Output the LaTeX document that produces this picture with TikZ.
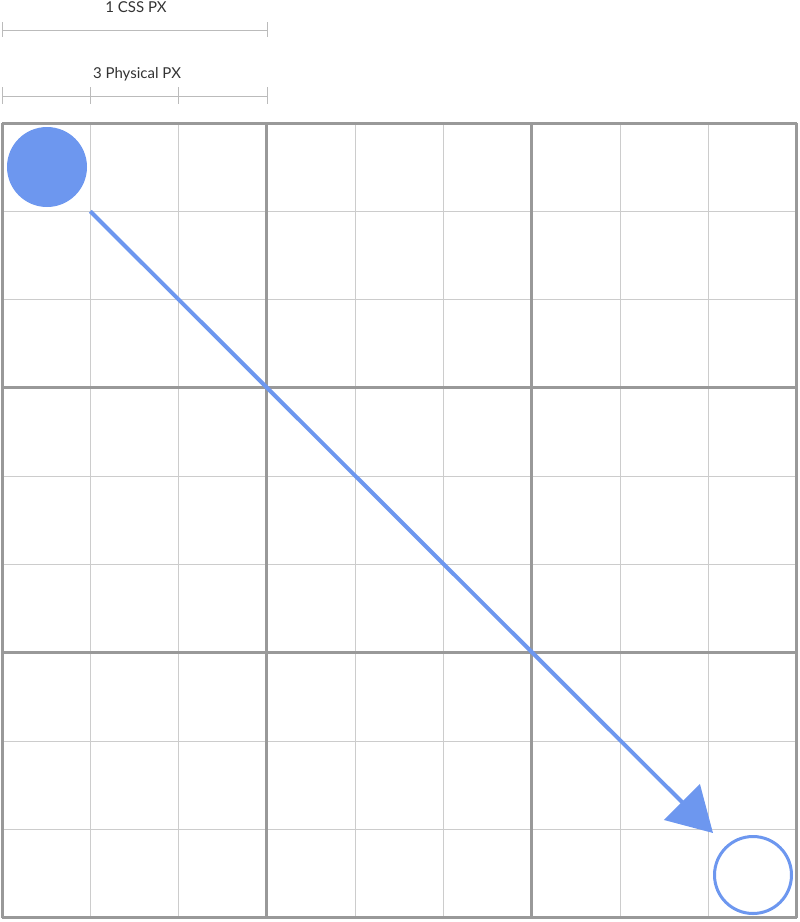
\documentclass[tikz,border=0pt]{standalone}
\usepackage{fontspec}
\setmainfont{Lato}
\usepackage{tikz}
\usetikzlibrary{positioning, arrows.meta}
\usepackage{xcolor}
\definecolor{pxblue}{HTML}{6D97EF}
\definecolor{gridthin}{HTML}{CCCCCC}
\definecolor{gridthick}{HTML}{999999}
\definecolor{rulegray}{HTML}{BBBBBB}

\begin{document}
\begin{tikzpicture}[
    x=1pt, y=-1pt,
    thinline/.style={draw=gridthin, line width=1pt},
    thickline/.style={draw=gridthick, line width=3pt},
    ruler/.style={draw=rulegray, line width=1pt},
    caption/.style={font=\fontsize{15}{17}\selectfont, text=black!80, anchor=base, inner sep=0pt},
    dot/.style={circle, fill=pxblue, minimum size=80pt, inner sep=0pt},
    target/.style={circle, draw=pxblue, line width=3pt, fill=white, minimum size=77pt, inner sep=0pt},
    arrow/.style={-{Triangle[length=44pt, width=50pt]}, draw=pxblue, line width=4pt}
]
    \useasboundingbox (0,0) rectangle (800,922);

    % Grid
    \foreach \i in {1,2,4,5,7,8} {
        \draw[thinline] (2+88.33*\i,123) -- (2+88.33*\i,918);
        \draw[thinline] (2,123+88.33*\i) -- (797,123+88.33*\i);
    }
    \foreach \i in {0,3,6,9} {
        \draw[thickline] (2+88.33*\i,123) -- (2+88.33*\i,918);
        \draw[thickline] (2,123+88.33*\i) -- (797,123+88.33*\i);
    }

    % Rulers
    \node[caption] (css) at (136,12) {1 CSS PX};
    \draw[ruler] (2,30) -- (267,30);
    \foreach \x in {2,267} \draw[ruler] (\x,22) -- (\x,37);
    \node[caption] (phys) at (137,78) {3 Physical PX};
    \draw[ruler] (2,96) -- (267,96);
    \foreach \x in {2,90.3,178.7,267} \draw[ruler] (\x,87) -- (\x,104);

    % Nodes
    \node[dot] (from) at (47,167) {};
    \node[target] (to) at (753,875) {};
    \coordinate (start) at (90.3,211.3);
    \coordinate (end) at (713,833);

    % Edges
    \draw[arrow] (start) -- (end);
\end{tikzpicture}
\end{document}
